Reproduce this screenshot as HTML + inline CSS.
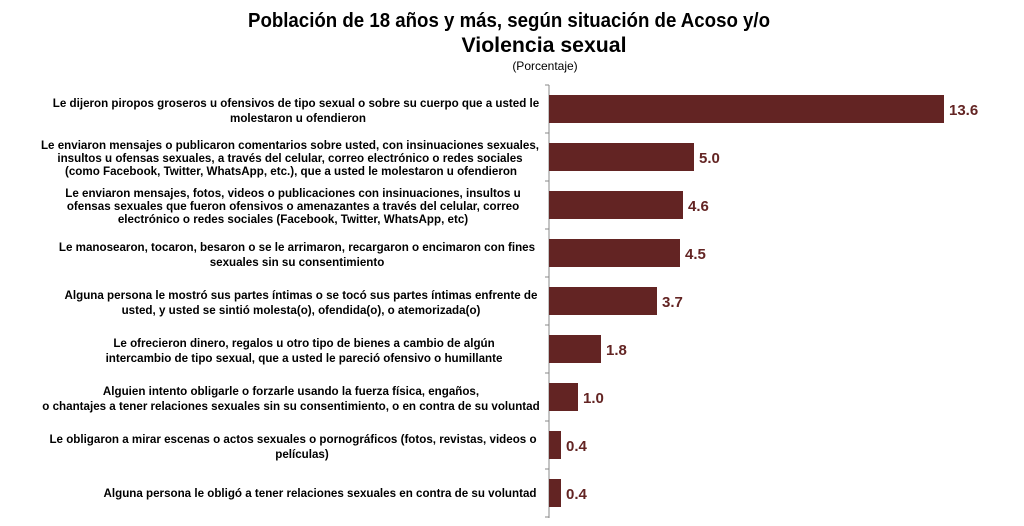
<!DOCTYPE html>
<html><head><meta charset="utf-8"><style>
html,body{margin:0;padding:0;background:#fff;}
svg{display:block;font-family:"Liberation Sans",Arial,sans-serif;}
.l{font-size:11.6px;font-weight:bold;fill:#000;text-anchor:middle;}
.v{font-size:15px;font-weight:bold;fill:#632423;}
</style></head><body>
<svg width="1024" height="526" viewBox="0 0 1024 526">
<text x="509" y="27" text-anchor="middle" font-size="20" font-weight="bold" textLength="522" lengthAdjust="spacingAndGlyphs">Población de 18 años y más, según situación de Acoso y/o</text>
<text x="544" y="52" text-anchor="middle" font-size="21" font-weight="bold" textLength="165" lengthAdjust="spacingAndGlyphs">Violencia sexual</text>
<text x="545" y="70" text-anchor="middle" font-size="12">(Porcentaje)</text>
<line x1="549" y1="85" x2="549" y2="518" stroke="#888" stroke-width="1"/>
<g stroke="#888"><line x1="545" y1="85" x2="549" y2="85"/><line x1="545" y1="133" x2="549" y2="133"/><line x1="545" y1="181" x2="549" y2="181"/><line x1="545" y1="229" x2="549" y2="229"/><line x1="545" y1="277" x2="549" y2="277"/><line x1="545" y1="325" x2="549" y2="325"/><line x1="545" y1="373" x2="549" y2="373"/><line x1="545" y1="421" x2="549" y2="421"/><line x1="545" y1="469" x2="549" y2="469"/><line x1="545" y1="517" x2="549" y2="517"/></g>
<g fill="#632423">
<rect x="549" y="95" width="395" height="28"/>
<rect x="549" y="143" width="145" height="28"/>
<rect x="549" y="191" width="134" height="28"/>
<rect x="549" y="239" width="131" height="28"/>
<rect x="549" y="287" width="108" height="28"/>
<rect x="549" y="335" width="52" height="28"/>
<rect x="549" y="383" width="29" height="28"/>
<rect x="549" y="431" width="12" height="28"/>
<rect x="549" y="479" width="12" height="28"/>
</g>
<text class="v" x="949" y="115">13.6</text>
<text class="v" x="699" y="163">5.0</text>
<text class="v" x="688" y="211">4.6</text>
<text class="v" x="685" y="259">4.5</text>
<text class="v" x="662" y="307">3.7</text>
<text class="v" x="606" y="355">1.8</text>
<text class="v" x="583" y="403">1.0</text>
<text class="v" x="566" y="451">0.4</text>
<text class="v" x="566" y="499">0.4</text>
<text class="l" x="296" y="107">Le dijeron piropos groseros u ofensivos de tipo sexual o sobre su cuerpo que a usted le</text>
<text class="l" x="298" y="122">molestaron u ofendieron</text>
<text class="l" x="290" y="149">Le enviaron mensajes o publicaron comentarios sobre usted, con insinuaciones sexuales,</text>
<text class="l" x="290" y="162">insultos u ofensas sexuales, a través del celular, correo electrónico o redes sociales</text>
<text class="l" x="291" y="175">(como Facebook, Twitter, WhatsApp, etc.), que a usted le molestaron u ofendieron</text>
<text class="l" x="293" y="197">Le enviaron mensajes, fotos, videos o publicaciones con insinuaciones, insultos u</text>
<text class="l" x="293" y="210">ofensas sexuales que fueron ofensivos o amenazantes a través del celular, correo</text>
<text class="l" x="293" y="223">electrónico o redes sociales (Facebook, Twitter, WhatsApp, etc)</text>
<text class="l" x="297" y="251">Le manosearon, tocaron, besaron o se le arrimaron, recargaron o encimaron con fines</text>
<text class="l" x="297" y="266">sexuales sin su consentimiento</text>
<text class="l" x="301" y="299">Alguna persona le mostró sus partes íntimas o se tocó sus partes íntimas enfrente de</text>
<text class="l" x="301" y="314">usted, y usted se sintió molesta(o), ofendida(o), o atemorizada(o)</text>
<text class="l" x="304" y="347">Le ofrecieron dinero, regalos u otro tipo de bienes a cambio de algún</text>
<text class="l" x="304" y="362">intercambio de tipo sexual, que a usted le pareció ofensivo o humillante</text>
<text class="l" x="291" y="395">Alguien intento obligarle o forzarle usando la fuerza física, engaños,</text>
<text class="l" x="291" y="410">o chantajes a tener relaciones sexuales sin su consentimiento, o en contra de su voluntad</text>
<text class="l" x="293" y="443">Le obligaron a mirar escenas o actos sexuales o pornográficos (fotos, revistas, videos o</text>
<text class="l" x="302" y="458">películas)</text>
<text class="l" x="320" y="497">Alguna persona le obligó a tener relaciones sexuales en contra de su voluntad</text>
</svg>
</body></html>
